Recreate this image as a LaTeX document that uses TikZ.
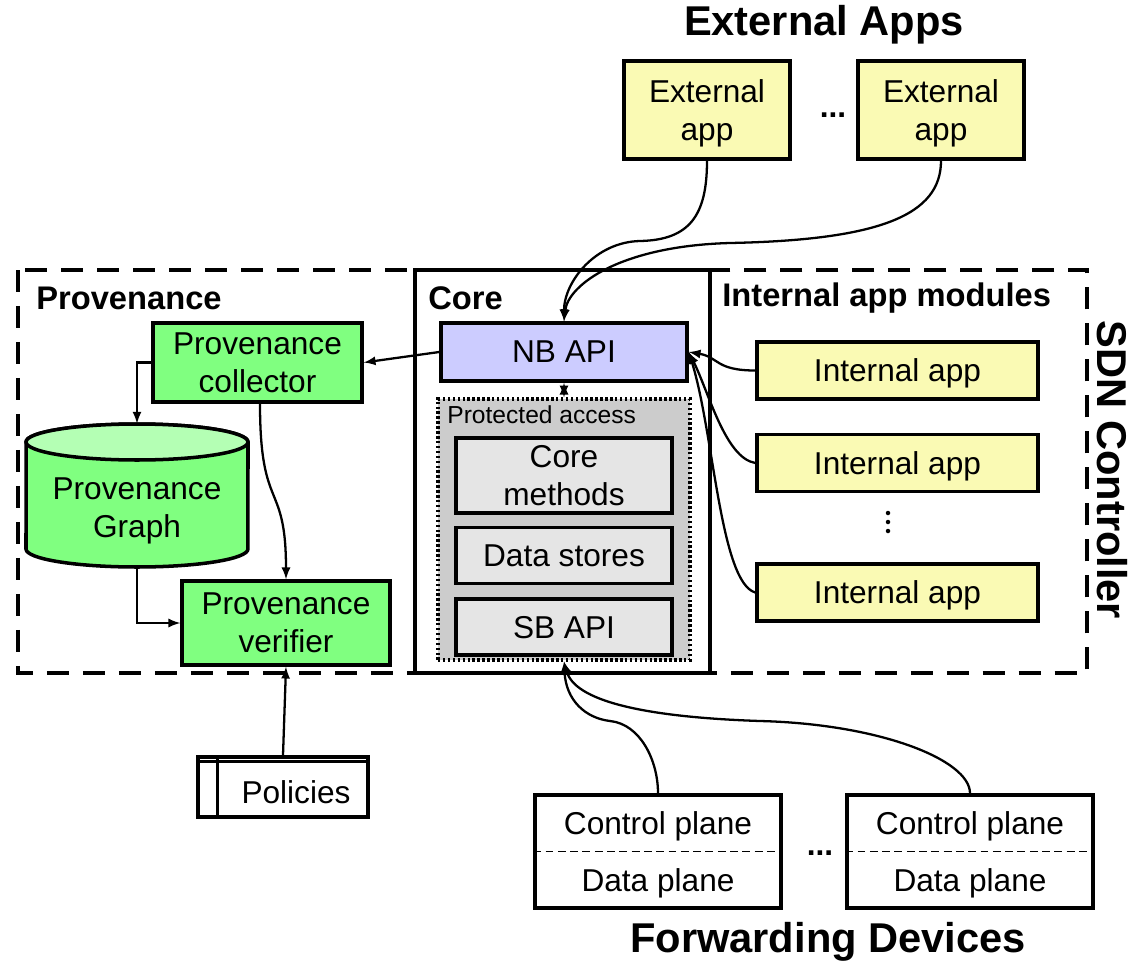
\documentclass[tikz,border=0pt]{standalone}
\usepackage{fontspec}
\setmainfont{Liberation Sans}
\usetikzlibrary{positioning}

\definecolor{provgreen}{RGB}{128,255,128}
\definecolor{provlight}{RGB}{180,255,180}
\definecolor{appyellow}{RGB}{250,250,180}
\definecolor{nblue}{RGB}{204,204,255}
\definecolor{protgray}{RGB}{204,204,204}
\definecolor{coregray}{RGB}{229,229,229}

\begin{document}
\begin{tikzpicture}[x=0.02cm,y=-0.02cm,>=latex,
  box/.style 2 args={draw,line width=2pt,minimum width=#1,minimum height=#2,text depth=0pt},
  conn/.style={line width=1.3pt}]
\tikzstyle{every node}=[font=\fontsize{18}{21.5}\selectfont,align=center,inner sep=0pt]
\tikzstyle{title}=[font=\fontsize{18.6}{21}\selectfont\bfseries]
\tikzstyle{bigtitle}=[font=\fontsize{23.7}{27}\selectfont\bfseries]
\useasboundingbox (0,0) rectangle (1135,963);

% controller frame and core
\draw[line width=2.4pt,dash pattern=on 0.44cm off 0.28cm] (18,270) rectangle (1087,673);
\node[box={5.9cm}{8.06cm},fill=white] (core) at (562.5,471.5) {};
\node[title,anchor=west] (tprov) at (36,298) {Provenance};
\node[title,anchor=west] (tcore) at (428,298) {Core};
\node[title,anchor=west] (tint) at (722,298) {Internal app modules};
\node[bigtitle,rotate=-90] (tsdn) at (1112,470) {SDN Controller};

% core stack
\node[box={4.92cm}{1.16cm},fill=nblue] (nb) at (564,352) {NB API};
\node[draw,line width=1.9pt,dash pattern=on 1.4pt off 1.4pt,fill=protgray,
  minimum width=5.04cm,minimum height=5.22cm] (prot) at (564,529.5) {};
\node[anchor=west,font=\fontsize{14}{16}\selectfont] (tprot) at (447,415) {Protected access};
\node[box={4.32cm}{1.5cm},fill=coregray] (cm) at (564,475.5) {Core\\methods};
\node[box={4.32cm}{1.12cm},fill=coregray,below=0.22cm of cm] (ds) {Data stores};
\node[box={4.32cm}{1.12cm},fill=coregray,below=0.24cm of ds] (sb) {SB API};
\draw[conn,<->] (nb.south) -- (prot.north);

% provenance side
\node[box={4.18cm}{1.58cm},fill=provgreen] (coll) at (257.5,362.5) {Provenance\\collector};
\draw[line width=2pt,fill=provgreen] (26,549) arc[start angle=180,end angle=360,x radius=2.22cm,y radius=0.36cm]
  -- (248,442) arc[start angle=0,end angle=180,x radius=2.22cm,y radius=0.36cm] -- cycle;
\draw[line width=2pt,fill=provlight] (137,442) ellipse[x radius=2.22cm,y radius=0.36cm];
\node[minimum width=4.44cm,minimum height=2.86cm] (gr) at (137,495.5) {};
\node (grtxt) at (137,511) {Provenance\\Graph};
\node[box={4.16cm}{1.68cm},fill=provgreen] (ver) at (286,623) {Provenance\\verifier};
\node[box={3.4cm}{1.2cm}] (pol) at (283,787) {};
\node (poltxt) at (296,792) {Policies};
\draw[line width=2pt] ([yshift=-0.12cm]pol.north west) -- ([yshift=-0.12cm]pol.north east);
\draw[line width=2pt] ([xshift=0.42cm]pol.north west) -- ([xshift=0.42cm]pol.south west);

\draw[conn,->] (nb.west) -- (coll.east);
\draw[conn,->] (coll.west) -| (gr.north);
\draw[conn,->] (gr.south) |- (ver.west);
\draw[conn,->] ([xshift=0.05cm]coll.south) .. controls +(0,110) and +(0,-100) .. (ver.north);
\draw[conn,->] (pol.north) -- (ver.south);

% external apps
\node[bigtitle] (text) at (824,25) {External Apps};
\node[box={3.32cm}{1.96cm},fill=appyellow] (ext1) at (707,110) {External\\app};
\node[box={3.32cm}{1.96cm},fill=appyellow] (ext2) at (941,110) {External\\app};
\node[font=\fontsize{18}{21.5}\selectfont\bfseries] (edots) at (833,115) {...};
\draw[conn,->] (ext1.south) .. controls (707,215) and (690,240) .. (640,241)
  .. controls (595,242) and (564,282) .. (nb.north);
\draw[conn,->] (ext2.south) .. controls (941,215) and (880,240) .. (730,243)
  .. controls (620,246) and (568,285) .. (nb.north);

% internal apps
\node[box={5.62cm}{1.14cm},fill=appyellow] (ia1) at (897.5,370.5) {Internal app};
\node[box={5.62cm}{1.14cm},fill=appyellow,below=0.64cm of ia1] (ia2) {Internal app};
\node[box={5.62cm}{1.14cm},fill=appyellow,below=1.38cm of ia2] (ia3) {Internal app};
\coordinate (idots) at (888,522);
\foreach \dy in {-9,0,9}
  \fill ([yshift=-\dy*0.02cm]idots) circle (0.045cm);
\draw[conn,->] (ia1.west) .. controls +(-40,0) and +(30,5) .. (nb.east);
\draw[conn,->] (ia2.west) .. controls +(-30,-5) and +(20,40) .. (nb.east);
\draw[conn,->] (ia3.west) .. controls +(-35,-10) and +(25,80) .. (nb.east);

% forwarding devices
\node[box={4.92cm}{2.26cm}] (fd1) at (658,851.5) {};
\node[box={4.92cm}{2.26cm}] (fd2) at (970,851.5) {};
\node (cp1) at (658,826) {Control plane};
\node (dp1) at (658,883) {Data plane};
\node (cp2) at (970,826) {Control plane};
\node (dp2) at (970,883) {Data plane};
\draw[line width=1.1pt,dash pattern=on 4.5pt off 2.5pt] (fd1.west) -- (fd1.east);
\draw[line width=1.1pt,dash pattern=on 4.5pt off 2.5pt] (fd2.west) -- (fd2.east);
\node[font=\fontsize{18}{21.5}\selectfont\bfseries] (fdots) at (820,853) {...};
\node[bigtitle] (tfwd) at (828,942) {Forwarding Devices};
\draw[conn,->] (fd1.north) .. controls (658,760) and (640,724) .. (610,721)
  .. controls (585,718) and (566,700) .. (prot.south);
\draw[conn,->] (fd2.north) .. controls (970,760) and (880,724) .. (760,721)
  .. controls (640,717) and (575,700) .. (prot.south);
\end{tikzpicture}
\end{document}
